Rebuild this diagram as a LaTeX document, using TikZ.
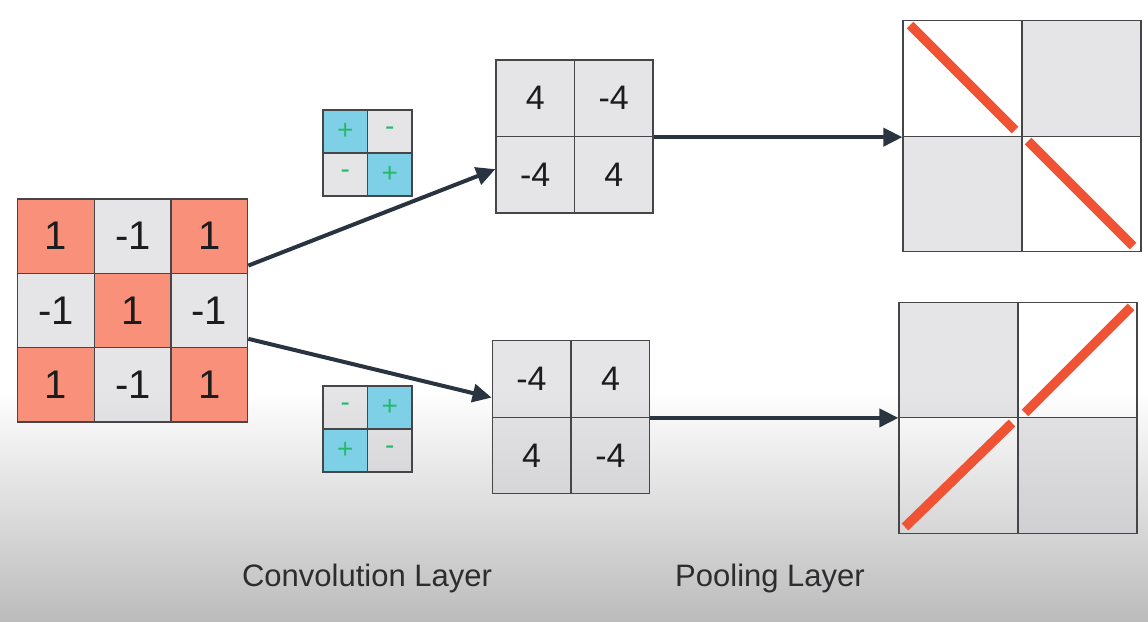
\documentclass[tikz,border=0pt]{standalone}
\definecolor{salmon}{RGB}{248,144,122}
\definecolor{cellgray}{RGB}{204,202,208}
\definecolor{kblue}{RGB}{126,208,230}
\definecolor{kgreen}{RGB}{40,185,110}
\definecolor{arrowdark}{RGB}{42,52,64}
\definecolor{poolred}{RGB}{240,82,52}
\definecolor{gridline}{RGB}{70,70,72}
\definecolor{numtext}{RGB}{28,28,30}
\definecolor{labeltext}{RGB}{45,45,48}
\definecolor{bggray}{RGB}{188,188,188}
\usepackage{fontspec}
\setmainfont{Liberation Sans}
\usetikzlibrary{arrows.meta}

\begin{document}
\begin{tikzpicture}[x=1pt,y=-1pt,
                grid/.style={draw=gridline,line width=1.3pt,inner sep=0pt,text=numtext},
                dim/.style={fill=cellgray,fill opacity=.5,text opacity=1},
                hot/.style={fill=salmon},
                kon/.style={fill=kblue},
                incell/.style={grid,minimum width=76.7pt,minimum height=74.3pt,font=\fontsize{40}{40}\selectfont},
                kcell/.style={grid,minimum width=44.5pt,minimum height=43pt,text=kgreen,font=\fontsize{28}{28}\selectfont},
                convcell/.style={grid,minimum width=78.5pt,minimum height=76.5pt,font=\fontsize{34}{34}\selectfont},
                poolcell/.style={grid,minimum width=119pt,minimum height=115.5pt},
                flow/.style={draw=arrowdark,line width=4pt,-{Triangle[length=19pt,width=18pt]}},
                stripe/.style={draw=poolred,line width=9.5pt},
                layerlabel/.style={text=labeltext,font=\fontsize{31}{31}\selectfont}]
                \useasboundingbox (0,0) rectangle (1148,621);
                \fill[white] (0,0) rectangle (1148,621);
                \shade[top color=white,bottom color=bggray] (0,390) rectangle (1148,621);

                \node[incell,hot] (in11) at (56.1,236.2) {1};
                \node[incell,dim] (in12) at (132.8,236.2) {-1};
                \node[incell,hot] (in13) at (209.3,236.2) {1};
                \node[incell,dim] (in21) at (56.1,310.5) {-1};
                \node[incell,hot] (in22) at (132.8,310.5) {1};
                \node[incell,dim] (in23) at (209.3,310.5) {-1};
                \node[incell,hot] (in31) at (56.1,384.8) {1};
                \node[incell,dim] (in32) at (132.8,384.8) {-1};
                \node[incell,hot] (in33) at (209.3,384.8) {1};

                \node[kcell,kon] (kA11) at (345.25,131.5) {+};
                \node[kcell,dim] (kA12) at (389.75,131.5) {-};
                \node[kcell,dim] (kA21) at (345.25,174.5) {-};
                \node[kcell,kon] (kA22) at (389.75,174.5) {+};

                \node[kcell,dim] (kB11) at (345.25,407.5) {-};
                \node[kcell,kon] (kB12) at (389.75,407.5) {+};
                \node[kcell,kon] (kB21) at (345.25,450.5) {+};
                \node[kcell,dim] (kB22) at (389.75,450.5) {-};

                \node[convcell,dim] (convA11) at (535.25,98.25) {4};
                \node[convcell,dim] (convA12) at (613.75,98.25) {-4};
                \node[convcell,dim] (convA21) at (535.25,174.75) {-4};
                \node[convcell,dim] (convA22) at (613.75,174.75) {4};

                \node[convcell,dim] (convB11) at (531.5,379) {-4};
                \node[convcell,dim] (convB12) at (610.5,379) {4};
                \node[convcell,dim] (convB21) at (531.5,455.5) {4};
                \node[convcell,dim] (convB22) at (610.5,455.5) {-4};

                \node[poolcell] (poolA11) at (962.5,78.5) {};
                \node[poolcell,dim] (poolA12) at (1081.5,78.5) {};
                \node[poolcell,dim] (poolA21) at (962.5,194) {};
                \node[poolcell] (poolA22) at (1081.5,194) {};

                \node[poolcell,dim] (poolB11) at (958.5,360) {};
                \node[poolcell] (poolB12) at (1077.5,360) {};
                \node[poolcell] (poolB21) at (958.5,475.5) {};
                \node[poolcell,dim] (poolB22) at (1077.5,475.5) {};

                \draw[flow] (in13.-37) -- (convA21.172);
                \draw[flow] (in23.-36) -- (convB11.205);
                \draw[flow] (convA12.south east) -- (convA12.south east -| poolA21.west);
                \draw[flow] (convB12.south east) -- (convB12.south east -| poolB21.west);

                \draw[stripe] (910,25) -- (1015,130);
                \draw[stripe] (1028,141) -- (1133,246);
                \draw[stripe] (905,527) -- (1012,423);
                \draw[stripe] (1025,413) -- (1131,307);

                \node[layerlabel] (convlabel) at (367,578) {Convolution Layer};
                \node[layerlabel] (poollabel) at (770,578) {Pooling Layer};
            \end{tikzpicture}
\end{document}
